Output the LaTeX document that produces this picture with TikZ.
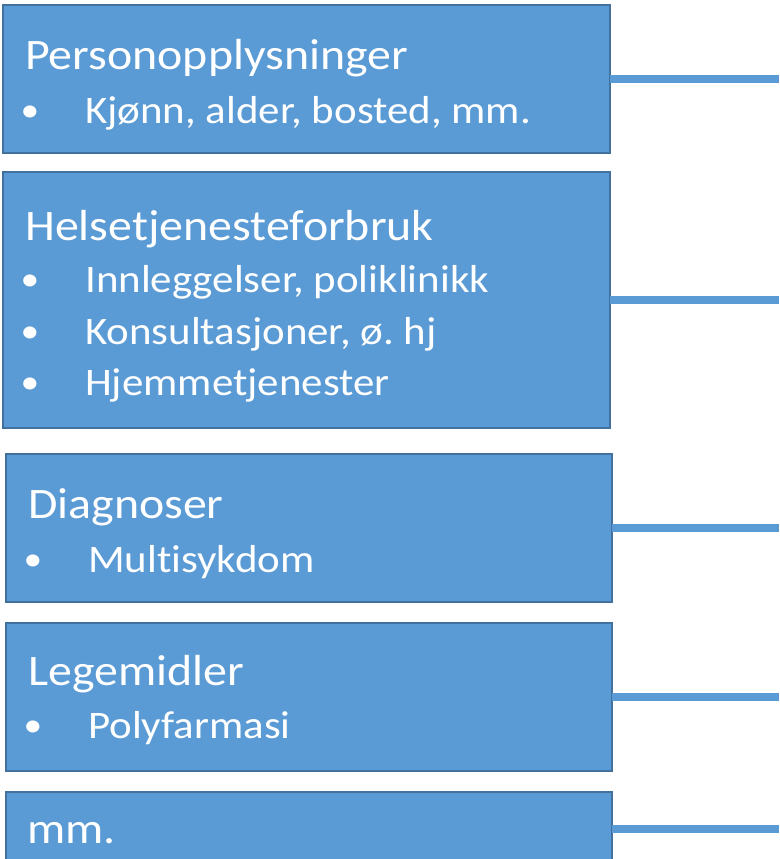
\documentclass[tikz,border=0pt]{standalone}
\usepackage{fontspec}
\setmainfont{Carlito}[FakeStretch=1.1, Ligatures=NoCommon]
\frenchspacing
\definecolor{boxfill}{HTML}{5B9BD5}
\definecolor{boxedge}{HTML}{41719C}
\begin{document}
\begin{tikzpicture}[x=1pt,y=-1pt,
  infobox/.style={draw=boxedge, fill=boxfill, line width=2pt, rectangle,
    anchor=north west, inner sep=0pt, outer sep=0pt},
  link/.style={draw=boxfill, line width=8pt},
  head/.style={anchor=base west, inner sep=0pt, text=white, font=\fontsize{43.5}{48}\selectfont},
  item/.style={anchor=base west, inner sep=0pt, text=white, font=\fontsize{39}{44}\selectfont},
  dot/.style={anchor=base, inner sep=0pt, text=white, font=\fontsize{34}{38}\selectfont}]
\useasboundingbox (0,0) rectangle (779,859);
\clip (0,0) rectangle (779,859);
\coordinate (edge) at (779,0);

% boxes
\node[infobox, minimum width=607pt, minimum height=148pt] (b1) at (3,5) {};
\node[infobox, minimum width=607pt, minimum height=256pt] (b2) at (3,172) {};
\node[infobox, minimum width=606pt, minimum height=148pt] (b3) at (6,454) {};
\node[infobox, minimum width=606pt, minimum height=148pt] (b4) at (6,623) {};
\node[infobox, minimum width=606pt, minimum height=74pt] (b5) at (6,792) {};

% connectors to the right margin
\foreach \b in {b1,b2,b3,b4,b5}
  \draw[link] (\b.east) -- (\b.east -| edge);

% box 1
\node[head] (t1) at (25,70) {Personopplysninger};
\node[dot] (d11) at (30,121) {•};
\node[item] (i11) at (85,123) {Kjønn, alder, bosted, mm.};

% box 2
\node[head] (t2) at (25,240) {Helsetjenesteforbruk};
\node[dot] (d21) at (30,290) {•};
\node[item] (i21) at (85,292) {Innleggelser, poliklinikk};
\node[dot] (d22) at (30,342) {•};
\node[item] (i22) at (85,344) {Konsultasjoner, ø. hj};
\node[dot] (d23) at (30,393) {•};
\node[item] (i23) at (85,395) {Hjemmetjenester};

% box 3
\node[head] (t3) at (28,518) {Diagnoser};
\node[dot] (d31) at (33,570) {•};
\node[item] (i31) at (88,572) {Multisykdom};

% box 4
\node[head] (t4) at (28,685) {Legemidler};
\node[dot] (d41) at (33,736) {•};
\node[item] (i41) at (88,738) {Polyfarmasi};

% box 5
\node[head] (t5) at (27,843) {mm.};
\end{tikzpicture}
\end{document}
